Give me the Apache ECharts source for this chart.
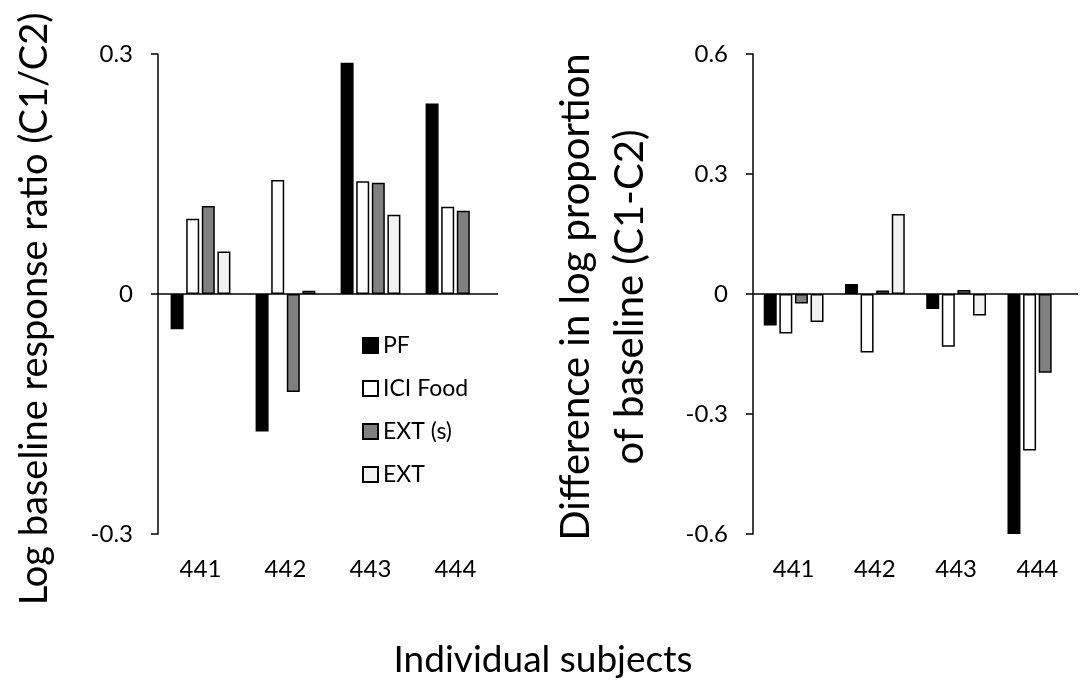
<!DOCTYPE html>
<html>
<head>
<meta charset="utf-8">
<script src="https://cdn.jsdelivr.net/npm/echarts@6/dist/echarts.min.js"></script>
<style>
  html, body { margin: 0; padding: 0; background: #fff; }
  #chart { width: 1086px; height: 684px; }
</style>
</head>
<body>
<div id="chart"></div>
<script>
// Subjects on the category axis
const subjects = ['441', '442', '443', '444'];

// Conditions shown as grouped bars
const conditionNames = ['PF', 'ICI Food', 'EXT (s)', 'EXT'];

// Left panel: log baseline response ratio (C1/C2)
const ratioPF    = [-0.044, -0.172, 0.289, 0.238];
const ratioICI   = [0.094, 0.1425, 0.141, 0.109];
const ratioEXTs  = [0.110, -0.1225, 0.139, 0.104];
const ratioEXT   = [0.053, 0.004, 0.099, null];

// Right panel: difference in log proportion of baseline (C1-C2)
const diffPF     = [-0.079, 0.025, -0.0375, -0.6];
const diffICI    = [-0.099, -0.146, -0.132, -0.391];
const diffEXTs   = [-0.024, 0.009, 0.010, -0.197];
const diffEXT    = [-0.070, 0.200, -0.054, null];

// Axis ranges and tick spacing
const leftTicks  = { min: -0.3, max: 0.3, step: 0.3 };
const rightTicks = { min: -0.6, max: 0.6, step: 0.3 };

const FONT = 'Lato, "Open Sans", sans-serif';
const fills = ['#000000', '#ffffff', '#808080', '#f2f2f2'];

const chart = echarts.init(document.getElementById('chart'));

function fmt(v) {
  if (Math.abs(v) < 1e-9) return '0';
  return v.toFixed(1);
}

function yAxisFor(gridIndex, t) {
  return {
    type: 'value',
    gridIndex: gridIndex,
    min: t.min,
    max: t.max,
    interval: t.step,
    axisLine: { show: true, lineStyle: { color: '#000', width: 1.5 } },
    axisTick: { show: true, inside: false, length: 7, lineStyle: { color: '#000', width: 1.5 } },
    splitLine: { show: false },
    axisLabel: {
      color: '#000', fontFamily: FONT, fontSize: 24, margin: 25,
      formatter: fmt
    }
  };
}

function xAxisFor(gridIndex) {
  return {
    type: 'category',
    gridIndex: gridIndex,
    data: subjects,
    axisLine: { show: false },
    axisTick: { show: false },
    splitLine: { show: false },
    axisLabel: { color: '#000', fontFamily: FONT, fontSize: 24, margin: 23 }
  };
}

const zeroLine = {
  silent: true,
  symbol: ['none', 'none'],
  label: { show: false },
  lineStyle: { color: '#000', width: 1.5, type: 'solid' },
  data: [{ yAxis: 0 }]
};

function barsFor(gridIndex, seriesData) {
  return seriesData.map(function (vals, i) {
    const s = {
      name: conditionNames[i],
      type: 'bar',
      xAxisIndex: gridIndex,
      yAxisIndex: gridIndex,
      data: vals,
      barWidth: 13,
      barGap: '20%',
      itemStyle: { color: fills[i], borderColor: '#000', borderWidth: 1.5 },
      emphasis: { disabled: true },
      animation: false
    };
    if (i === 0) s.markLine = zeroLine;
    return s;
  });
}

const option = {
  backgroundColor: '#fff',
  animation: false,
  grid: [
    { left: 158, top: 54, width: 340, height: 480 },
    { left: 753, top: 54, width: 325, height: 480 }
  ],
  xAxis: [xAxisFor(0), xAxisFor(1)],
  yAxis: [yAxisFor(0, leftTicks), yAxisFor(1, rightTicks)],
  legend: {
    data: conditionNames,
    orient: 'vertical',
    icon: 'rect',
    left: 362,
    top: 334,
    itemWidth: 15,
    itemHeight: 15,
    itemGap: 20,
    padding: 0,
    selectedMode: false,
    textStyle: { color: '#000', fontFamily: FONT, fontSize: 23 }
  },
  graphic: [
    {
      type: 'text', x: 35, y: 309, rotation: Math.PI / 2,
      style: {
        text: 'Log baseline response ratio (C1/C2)',
        fontFamily: FONT, fontSize: 38, fill: '#000',
        textAlign: 'center', textVerticalAlign: 'middle'
      }
    },
    {
      type: 'text', x: 576, y: 297, rotation: Math.PI / 2,
      style: {
        text: 'Difference in log proportion',
        fontFamily: FONT, fontSize: 40, fill: '#000',
        textAlign: 'center', textVerticalAlign: 'middle'
      }
    },
    {
      type: 'text', x: 630, y: 297, rotation: Math.PI / 2,
      style: {
        text: 'of baseline (C1-C2)',
        fontFamily: FONT, fontSize: 40, fill: '#000',
        textAlign: 'center', textVerticalAlign: 'middle'
      }
    },
    {
      type: 'text', x: 543, y: 660,
      style: {
        text: 'Individual subjects',
        fontFamily: FONT, fontSize: 37, fill: '#000',
        textAlign: 'center', textVerticalAlign: 'middle'
      }
    }
  ],
  series: barsFor(0, [ratioPF, ratioICI, ratioEXTs, ratioEXT])
    .concat(barsFor(1, [diffPF, diffICI, diffEXTs, diffEXT]))
};

chart.setOption(option);
</script>
</body>
</html>
